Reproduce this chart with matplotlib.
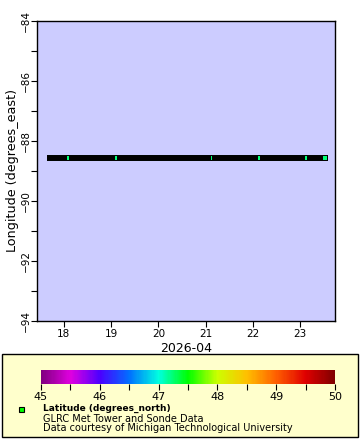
import numpy as np
import pandas as pd
import matplotlib
matplotlib.use('Agg')
import matplotlib.pyplot as plt
import matplotlib.dates as mdates
from matplotlib.colors import LinearSegmentedColormap, Normalize
from matplotlib.patches import Rectangle

# data segments (10 min sampling, short gaps each night)
seg_starts = ['2026-04-17 16:20', '2026-04-18 03:50', '2026-04-19 04:00',
              '2026-04-21 04:40', '2026-04-22 04:50', '2026-04-23 04:30']
seg_ends = ['2026-04-18 02:20', '2026-04-19 02:40', '2026-04-21 03:10',
            '2026-04-22 03:30', '2026-04-23 03:10', '2026-04-23 12:30']
lon_value = -88.55
lat_value = 47.23

times = pd.DatetimeIndex([])
for s, e in zip(seg_starts, seg_ends):
    times = times.append(pd.date_range(s, e, freq='10min'))
lon = np.full(len(times), lon_value)
lat = np.full(len(times), lat_value)

# palette
cb_vals = [45, 45.5, 46, 46.5, 47, 47.5, 48, 48.5, 49, 49.5, 50]
cb_cols = ['#800080', '#e000e0', '#4a00ff', '#0070ff', '#00ffe0', '#00ff00',
           '#ccff00', '#ffc000', '#ff6000', '#e00000', '#800000']
cmap = LinearSegmentedColormap.from_list(
    'rb2', [((v - 45) / 5, c) for v, c in zip(cb_vals, cb_cols)])
norm = Normalize(45, 50)

W, H = 360, 440
fig = plt.figure(figsize=(W / 100, H / 100), dpi=100)
plt.rcParams['font.family'] = 'DejaVu Sans'

# legend box behind everything
fig.patches.append(Rectangle((2 / W, 1 - 437 / H), 356 / W, 83 / H,
                             transform=fig.transFigure, facecolor='#ffffcc',
                             edgecolor='black', linewidth=1, zorder=-5))

ax = fig.add_axes([37 / W, 1 - 321 / H, 298 / W, 300 / H])
ax.set_facecolor('#ccccff')
ax.scatter(times, lon, c=lat, cmap=cmap, norm=norm, marker='s',
           s=(4.6 * 0.72) ** 2, edgecolors='black', linewidths=0.72, zorder=3)

ax.set_xlim(pd.Timestamp('2026-04-17 10:20'), pd.Timestamp('2026-04-23 17:45'))
ax.set_ylim(-94, -84)
ax.xaxis.set_major_locator(mdates.DayLocator())
ax.xaxis.set_major_formatter(mdates.DateFormatter('%d'))
ax.set_yticks(np.arange(-94, -83, 2))
ax.set_yticks(np.arange(-93, -84, 2), minor=True)
ax.tick_params(axis='both', which='both', direction='out', length=4,
               width=0.8, labelsize=7.5, pad=2)
ax.tick_params(axis='y', pad=0.5)
for lab in ax.get_yticklabels():
    lab.set_rotation(90)
    lab.set_va('center')
ax.set_xlabel('2026-04', fontsize=9, labelpad=2)
ax.set_ylabel('Longitude (degrees_east)', fontsize=9.2, labelpad=1)
for sp in ax.spines.values():
    sp.set_linewidth(1)

cax = fig.add_axes([41 / W, 1 - 384 / H, 294 / W, 14 / H])
sm = matplotlib.cm.ScalarMappable(norm=norm, cmap=cmap)
cb = fig.colorbar(sm, cax=cax, orientation='horizontal')
cb.outline.set_visible(False)
cb.set_ticks(np.arange(45, 51, 1))
cb.ax.set_xticks(np.arange(45.5, 50, 1), minor=True)
cb.ax.tick_params(which='both', direction='out', length=4, width=0.8,
                  labelsize=8, pad=2)
cb.ax.set_xticklabels([str(v) for v in range(45, 51)])

fig.patches.append(Rectangle((19 / W, 1 - 412 / H), 5 / W, 5 / H,
                             transform=fig.transFigure, facecolor='#00ff00',
                             edgecolor='black', linewidth=0.8))
fig.text(43 / W, 1 - 408.5 / H, 'Latitude (degrees_north)', fontsize=6.5,
         fontweight='bold', va='center')
fig.text(43 / W, 1 - 418.5 / H, 'GLRC Met Tower and Sonde Data', fontsize=7,
         va='center')
fig.text(43 / W, 1 - 427.5 / H, 'Data courtesy of Michigan Technological University',
         fontsize=7, va='center')

fig.savefig('out.png', dpi=100)
